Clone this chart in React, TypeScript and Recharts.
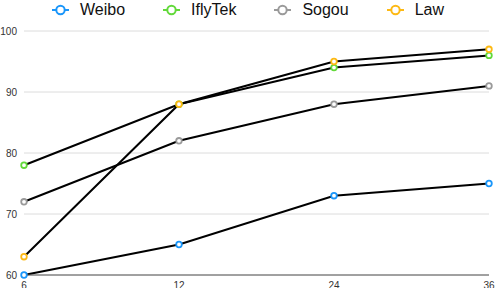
import React from 'react';
import { LineChart, Line, XAxis, YAxis, CartesianGrid, Legend } from 'recharts';

const categories = ['6', '12', '24', '36'];
const weibo = [60, 65, 73, 75];
const iflytek = [78, 88, 94, 96];
const sogou = [72, 82, 88, 91];
const law = [63, 88, 95, 97];
const yTicks = [60, 70, 80, 90, 100];

const seriesNames = ['Weibo', 'IflyTek', 'Sogou', 'Law'];
const seriesKeys = ['weibo', 'iflytek', 'sogou', 'law'];
const seriesColors = ['#1A96FA', '#62D93A', '#9A9A9A', '#FDB914'];

const data = categories.map((c, i) => ({
  cat: c,
  weibo: weibo[i],
  iflytek: iflytek[i],
  sogou: sogou[i],
  law: law[i],
}));

const FONT = 'Liberation Sans, Arial, Helvetica, sans-serif';

const LegendContent = () => (
  <div
    style={{
      display: 'flex',
      justifyContent: 'center',
      alignItems: 'center',
      height: 20,
      fontFamily: FONT,
      fontSize: 16,
      color: '#111',
      gap: 38,
    }}
  >
    {seriesNames.map((n, i) => (
      <div key={n} style={{ display: 'flex', alignItems: 'center' }}>
        <svg width={17} height={12} style={{ marginRight: 11 }}>
          <line x1={0} y1={6} x2={17} y2={6} stroke={seriesColors[i]} strokeWidth={2} />
          <circle cx={8.5} cy={6} r={4.2} fill="#fff" stroke={seriesColors[i]} strokeWidth={2} />
        </svg>
        <span>{n}</span>
      </div>
    ))}
  </div>
);

export default function App() {
  return (
    <div style={{ position: 'absolute', left: 0, top: 0 }}>
      <LineChart
        width={496}
        height={288}
        data={data}
        margin={{ top: 11, right: 7, bottom: 0, left: 0 }}
      >
        <Legend verticalAlign="top" align="center" content={<LegendContent />} wrapperStyle={{ top: 0, left: 0, width: 496 }} />
        <CartesianGrid vertical={false} stroke="#dcdcdc" strokeWidth={1} />
        <XAxis
          dataKey="cat"
          height={13}
          tickLine={false}
          axisLine={{ stroke: '#555', strokeWidth: 1 }}
          tick={{ fontSize: 10, fill: '#333', fontFamily: FONT }}
          tickSize={7}
          tickMargin={0}
          interval={0}
          padding={{ left: 0, right: 0 }}
        />
        <YAxis
          width={24}
          domain={[60, 100]}
          ticks={yTicks}
          axisLine={false}
          tickLine={false}
          tickSize={5}
          tickMargin={2}
          tick={{ fontSize: 10, fill: '#333', fontFamily: FONT }}
        />
        {seriesKeys.map((k, i) => (
          <Line
            key={k}
            dataKey={k}
            name={seriesNames[i]}
            stroke="#000"
            strokeWidth={2}
            isAnimationActive={false}
            dot={{ r: 2.8, fill: '#fff', stroke: seriesColors[i], strokeWidth: 1.8 }}
            activeDot={false}
          />
        ))}
      </LineChart>
    </div>
  );
}
